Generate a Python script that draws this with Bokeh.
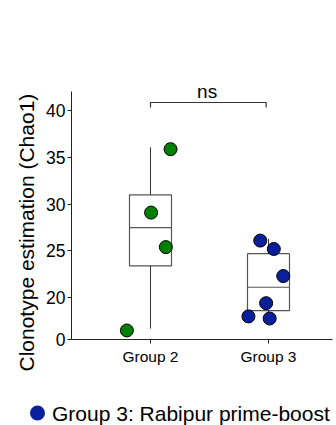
from bokeh.plotting import figure
from bokeh.layouts import column
from bokeh.models import FixedTicker, Label, Title
from bokeh.core.properties import value
from bokeh.embed import file_html
from bokeh.resources import INLINE

# ---------------- data ----------------
groups = ["Group 2", "Group 3"]
group_pos = [1, 2]

g2_values = [35.9, 29.1, 25.4, 4.3]
g2_jitter = [0.17, 0.005, 0.13, -0.2]
g3_values = [26.1, 25.2, 22.3, 17.3, 11.0, 10.0]
g3_jitter = [-0.07, 0.045, 0.125, -0.02, -0.17, 0.01]

box_q1 = [23.4, 13.8]
box_med = [27.5, 21.1]
box_q3 = [31.0, 24.7]
whisk_lo = [5.2, 10.0]
whisk_hi = [36.1, 26.3]

y_ticks = [0, 20, 25, 30, 35, 40]
sig_label = "ns"
sig_value = 40.9
y_title = "Clonotype estimation (Chao1)"
legend_labels = ["Group 3: Rabipur prime-boost"]
legend_colors = ["#0a1f9a"]

# ---------------- styles ----------------
FONT = "Liberation Sans"
GREEN = "#008000"
BLUE = "#0a1f9a"
BOX_COLOR = "#555555"
AXIS_COLOR = "#222222"
BOX_W = 0.356

# broken y scale: values below 20 are compressed
BREAK = 20.0
LOW_SCALE = 4.5 / 20.0


def disp(v):
    return v if v >= BREAK else BREAK - (BREAK - v) * LOW_SCALE


p = figure(width=336, height=385, x_range=(0.3305, 2.5424), y_range=(15.5, 45.4),
           output_backend="svg", toolbar_location=None, frame_align=False,
           min_border_left=71, min_border_right=4, min_border_top=60, min_border_bottom=46)
p.grid.visible = False
p.outline_line_color = None
p.background_fill_color = "white"

# boxes
p.vbar(x=group_pos, top=[disp(v) for v in box_q3], bottom=[disp(v) for v in box_q1],
       width=BOX_W, fill_color=None, line_color=BOX_COLOR, line_width=1.2)
p.segment(x0=[x - BOX_W / 2 for x in group_pos], x1=[x + BOX_W / 2 for x in group_pos],
          y0=[disp(v) for v in box_med], y1=[disp(v) for v in box_med],
          line_color=BOX_COLOR, line_width=1.2)
# whiskers
p.segment(x0=group_pos, x1=group_pos, y0=[disp(v) for v in box_q3], y1=[disp(v) for v in whisk_hi],
          line_color="#333333", line_width=1)
p.segment(x0=group_pos, x1=group_pos, y0=[disp(v) for v in box_q1], y1=[disp(v) for v in whisk_lo],
          line_color="#333333", line_width=1)

# points
p.scatter(x=[group_pos[0] + j for j in g2_jitter], y=[disp(v) for v in g2_values],
          size=13, fill_color=GREEN, line_color="black", line_width=1)
p.scatter(x=[group_pos[1] + j for j in g3_jitter], y=[disp(v) for v in g3_values],
          size=13, fill_color=BLUE, line_color="black", line_width=1)

# significance bracket
tick_drop = 0.55
p.line(x=[group_pos[0], group_pos[0], group_pos[1] - 0.02, group_pos[1] - 0.02],
       y=[sig_value - tick_drop, sig_value, sig_value, sig_value - tick_drop],
       line_color="#333333", line_width=1.2)
p.add_layout(Label(x=(group_pos[0] + group_pos[1]) / 2 - 0.02, y=sig_value + 0.1, text=sig_label,
                   text_align="center", text_baseline="bottom",
                   text_font=FONT, text_font_size="19px", text_color="black"))

# axes
p.xaxis.ticker = FixedTicker(ticks=group_pos)
p.xaxis.major_label_overrides = {gp: g for gp, g in zip(group_pos, groups)}
p.xaxis.major_tick_out = 4
p.xaxis.major_tick_in = 0
p.xaxis.minor_tick_line_color = None
p.xaxis.axis_line_color = AXIS_COLOR
p.xaxis.major_tick_line_color = AXIS_COLOR
p.xaxis.major_label_text_font = FONT
p.xaxis.major_label_text_font_size = "15.5px"
p.xaxis.major_label_text_color = "black"
p.xaxis.major_label_standoff = 4

p.yaxis.ticker = FixedTicker(ticks=[disp(t) for t in y_ticks])
p.yaxis.major_label_overrides = {disp(t): str(t) for t in y_ticks}
p.yaxis.bounds = (disp(0), 42.1)
p.yaxis.major_tick_out = 4
p.yaxis.major_tick_in = 0
p.yaxis.minor_tick_line_color = None
p.yaxis.axis_line_color = AXIS_COLOR
p.yaxis.major_tick_line_color = AXIS_COLOR
p.yaxis.major_label_text_font = FONT
p.yaxis.major_label_text_font_size = "17.5px"
p.yaxis.major_label_text_color = "black"
p.yaxis.major_label_standoff = 2

# y title (left panel title so it can be shifted along the axis)
p.add_layout(Title(text=y_title, align="left", offset=-32, vertical_align="middle",
                   text_font=FONT, text_font_size="21px", text_font_style="normal",
                   text_color="black", standoff=9), "left")

# legend strip (pixel-like coordinates)
pl = figure(width=336, height=40, x_range=(0, 336), y_range=(0, 40),
            output_backend="svg", toolbar_location=None, frame_align=False,
            x_axis_type=None, y_axis_type=None,
            min_border_left=0, min_border_right=0, min_border_top=0, min_border_bottom=0)
pl.grid.visible = False
pl.outline_line_color = None
LEG_MARK_X, LEG_TEXT_X, LEG_Y = 37, 51.5, 12.5
pl.scatter(x=[LEG_MARK_X] * len(legend_labels), y=[LEG_Y] * len(legend_labels), size=15,
           fill_color=legend_colors, line_color=None)
pl.text(x=[LEG_TEXT_X] * len(legend_labels), y=[LEG_Y] * len(legend_labels), text=legend_labels,
        text_font=value(FONT), text_font_size="21px", text_color="black",
        text_align="left", text_baseline="middle")

layout = column(p, pl, spacing=0)
open("out.html", "w").write(file_html(layout, INLINE))
